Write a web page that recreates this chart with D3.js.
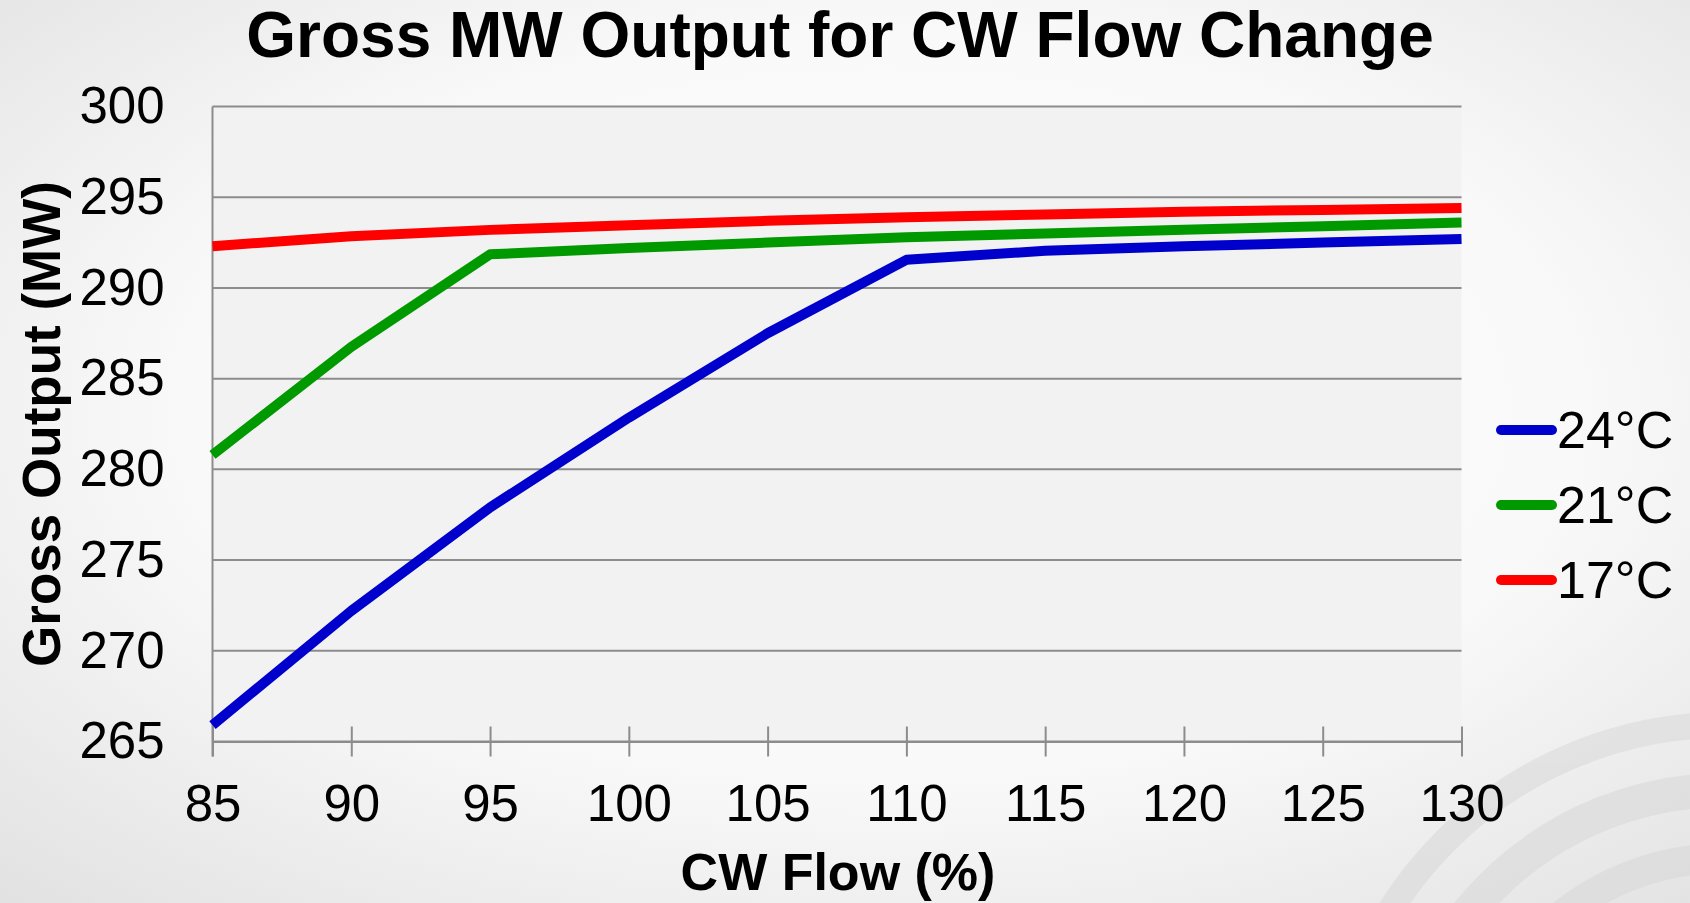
<!DOCTYPE html>
<html>
<head>
<meta charset="utf-8">
<script src="https://cdn.jsdelivr.net/npm/d3@7"></script>
<style>
  html, body { margin: 0; padding: 0; overflow: hidden; }
  svg { display: block; font-family: "Liberation Sans", Arial, sans-serif; }
</style>
</head>
<body>
<svg id="chart" width="1690" height="903"></svg>
<script>
// CW flow (%) on the x axis
var flow = [85, 90, 95, 100, 105, 110, 115, 120, 125, 130];

// gross output (MW) per cooling water temperature
var out24 = [265.9, 272.2, 277.9, 282.85, 287.5, 291.55, 292.05, 292.3, 292.5, 292.7];
var out21 = [280.8, 286.75, 291.85, 292.2, 292.5, 292.8, 293.0, 293.2, 293.4, 293.6];
var out17 = [292.3, 292.85, 293.2, 293.45, 293.7, 293.9, 294.05, 294.2, 294.3, 294.4];

var seriesNames = ['24\u00B0C', '21\u00B0C', '17\u00B0C'];
var seriesColours = ['#0000cc', '#009900', '#ff0000'];
var xTicks = [85, 90, 95, 100, 105, 110, 115, 120, 125, 130];
var yTicks = [265, 270, 275, 280, 285, 290, 295, 300];

var series = [out24, out21, out17].map(function (vals, i) {
    return { name: seriesNames[i], colour: seriesColours[i],
             pts: vals.map(function (v, j) { return { x: flow[j], y: v }; }) };
});

var svg = d3.select('#chart');
var W = 1690, H = 903;
var plot = { left: 212.5, right: 1461.5, top: 106.5, bottom: 741.5 };

//-------------------------------------------------------------------------------
// slide background: soft radial gradient + faint arcs bottom right
var defs = svg.append('defs');
var grad = defs.append('radialGradient').attr('id', 'bg')
    .attr('cx', '52%').attr('cy', '45%').attr('r', '75%');
grad.append('stop').attr('offset', '0%').attr('stop-color', '#ffffff');
grad.append('stop').attr('offset', '55%').attr('stop-color', '#f9f9f9');
grad.append('stop').attr('offset', '100%').attr('stop-color', '#e2e2e2');
svg.append('rect').attr('width', W).attr('height', H).attr('fill', 'url(#bg)');

var arcs = svg.append('g').attr('fill', 'none').attr('stroke', '#d8d8d8').attr('opacity', 0.55);
[ { r: 395, w: 26 }, { r: 330, w: 34 }, { r: 262, w: 30 }, { r: 195, w: 26 } ].forEach(function (a) {
    arcs.append('circle').attr('cx', 1725).attr('cy', 1120).attr('r', a.r).attr('stroke-width', a.w);
});

//-------------------------------------------------------------------------------
var x = d3.scaleLinear().domain([85, 130]).range([plot.left, plot.right]);
var y = d3.scaleLinear().domain([265, 300]).range([plot.bottom, plot.top]);

svg.append('rect')
    .attr('x', plot.left).attr('y', plot.top)
    .attr('width', plot.right - plot.left).attr('height', plot.bottom - plot.top)
    .attr('fill', '#f2f2f2');

// horizontal gridlines
svg.append('g')
    .selectAll('line')
    .data(yTicks)
    .join('line')
    .attr('x1', plot.left).attr('x2', plot.right)
    .attr('y1', function (d) { return y(d); }).attr('y2', function (d) { return y(d); })
    .attr('stroke', '#8c8c8c').attr('stroke-width', 2);

// x axis: tick marks cross the axis line
var xAxis = d3.axisBottom(x).tickValues(xTicks).tickSize(15).tickPadding(28).tickSizeOuter(0);
var gx = svg.append('g').attr('transform', 'translate(0,' + plot.bottom + ')').call(xAxis);
gx.select('.domain').attr('stroke', '#8c8c8c').attr('stroke-width', 2);
gx.selectAll('.tick line').attr('y1', -15).attr('y2', 15).attr('stroke', '#8c8c8c').attr('stroke-width', 2);
gx.selectAll('.tick text').attr('font-size', 51).attr('fill', '#000')
    .attr('font-family', '"Liberation Sans", Arial, sans-serif');

// y axis: line only, labels on the left
var yAxis = d3.axisLeft(y).tickValues(yTicks).tickSize(0).tickPadding(48);
var gy = svg.append('g').attr('transform', 'translate(' + plot.left + ',0)').call(yAxis);
gy.select('.domain').remove();
gy.selectAll('.tick text').attr('font-size', 51).attr('fill', '#000')
    .attr('font-family', '"Liberation Sans", Arial, sans-serif');
svg.append('line')
    .attr('x1', plot.left).attr('x2', plot.left)
    .attr('y1', plot.top).attr('y2', plot.bottom + 15)
    .attr('stroke', '#8c8c8c').attr('stroke-width', 2);

//-------------------------------------------------------------------------------
var line = d3.line().x(function (d) { return x(d.x); }).y(function (d) { return y(d.y); });

svg.append('g')
    .selectAll('path')
    .data(series)
    .join('path')
    .attr('d', function (d) { return line(d.pts); })
    .attr('fill', 'none')
    .attr('stroke', function (d) { return d.colour; })
    .attr('stroke-width', 10)
    .attr('stroke-linejoin', 'round');

//-------------------------------------------------------------------------------
// legend
var legend = svg.append('g')
    .selectAll('g')
    .data(series)
    .join('g')
    .attr('transform', function (d, i) { return 'translate(1496,' + (430 + i * 75) + ')'; });
legend.append('line')
    .attr('x1', 5).attr('x2', 56).attr('y1', 0).attr('y2', 0)
    .attr('stroke', function (d) { return d.colour; })
    .attr('stroke-width', 10).attr('stroke-linecap', 'round');
legend.append('text')
    .attr('x', 61).attr('y', 18)
    .attr('font-size', 52)
    .text(function (d) { return d.name; });

//-------------------------------------------------------------------------------
// titles
svg.append('text')
    .attr('x', 840).attr('y', 57)
    .attr('text-anchor', 'middle')
    .attr('font-size', 64).attr('font-weight', 'bold')
    .text('Gross MW Output for CW Flow Change');

svg.append('text')
    .attr('x', 838).attr('y', 890)
    .attr('text-anchor', 'middle')
    .attr('font-size', 52).attr('font-weight', 'bold')
    .text('CW Flow (%)');

svg.append('text')
    .attr('transform', 'translate(60,424) rotate(-90)')
    .attr('text-anchor', 'middle')
    .attr('font-size', 53).attr('font-weight', 'bold')
    .text('Gross Output (MW)');
</script>
</body>
</html>
